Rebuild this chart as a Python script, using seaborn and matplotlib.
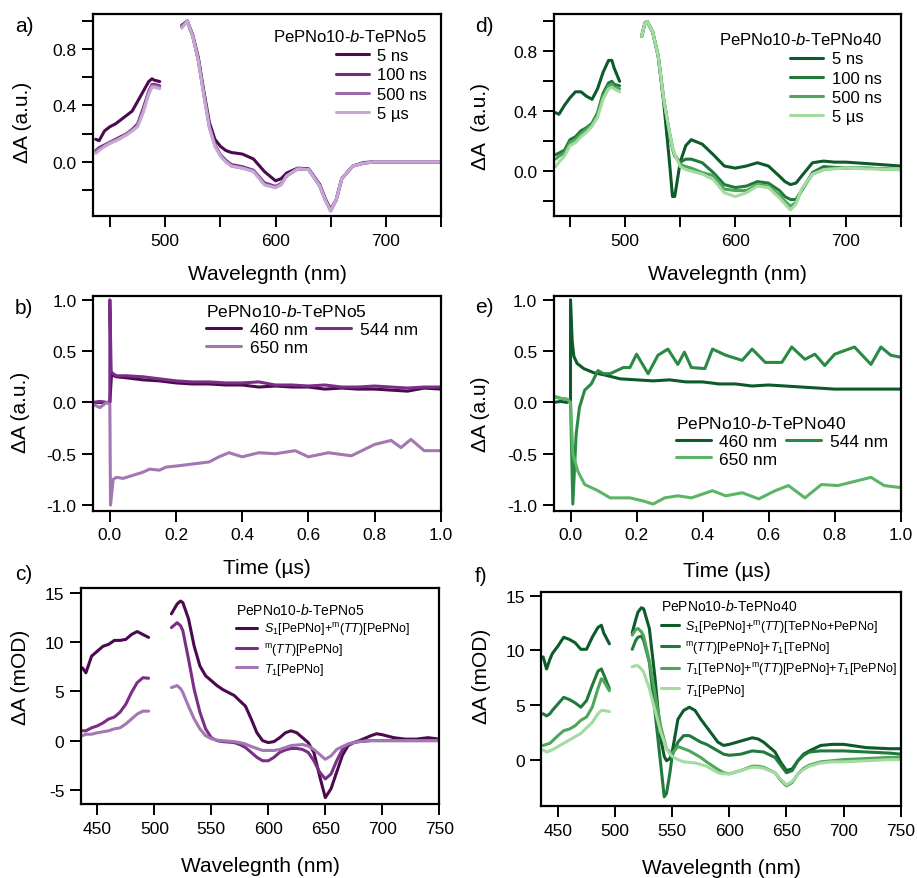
import numpy as np
import pandas as pd
import matplotlib
matplotlib.use("Agg")
import matplotlib.pyplot as plt
from matplotlib.lines import Line2D
from matplotlib import font_manager
import seaborn as sns

# ---------------- data ----------------
# panel a (PePNo10-b-TePNo5, normalised spectra)
a_wl_left = [437, 440, 445, 450, 455, 460, 465, 470, 475, 480, 485, 488, 490, 495]
a_5ns_left = [0.16, 0.15, 0.22, 0.25, 0.27, 0.30, 0.33, 0.36, 0.43, 0.50, 0.57, 0.59, 0.58, 0.57]
a_100ns_left = [0.08, 0.10, 0.12, 0.14, 0.16, 0.18, 0.20, 0.23, 0.27, 0.38, 0.50, 0.55, 0.55, 0.54]
a_500ns_left = [0.07, 0.09, 0.11, 0.14, 0.15, 0.17, 0.20, 0.22, 0.26, 0.36, 0.49, 0.54, 0.54, 0.53]
a_5us_left = [0.06, 0.08, 0.11, 0.13, 0.15, 0.17, 0.19, 0.22, 0.25, 0.35, 0.48, 0.53, 0.53, 0.52]
a_wl_right = [515, 520, 525, 530, 535, 540, 545, 550, 555, 560, 570, 580, 590, 600, 605, 610, 620,
              630, 640, 645, 650, 655, 660, 670, 680, 690, 700, 710, 720, 730, 740, 750]
a_5ns_right = [0.97, 1.0, 0.90, 0.74, 0.50, 0.28, 0.16, 0.11, 0.08, 0.066, 0.055, 0.02, -0.07, -0.135,
               -0.12, -0.08, -0.045, -0.05, -0.16, -0.26, -0.34, -0.27, -0.12, -0.03, -0.005, 0.0,
               0.0, 0.0, 0.0, 0.0, 0.0, 0.0]
a_100ns_right = [0.96, 1.0, 0.89, 0.72, 0.48, 0.25, 0.12, 0.05, 0.01, -0.02, -0.035, -0.06, -0.15,
                 -0.175, -0.155, -0.10, -0.05, -0.055, -0.17, -0.27, -0.34, -0.27, -0.12, -0.03,
                 -0.01, 0.0, 0.0, 0.0, 0.0, 0.0, 0.0, 0.0]
a_500ns_right = [0.96, 1.0, 0.89, 0.72, 0.48, 0.25, 0.12, 0.045, 0.0, -0.03, -0.045, -0.065, -0.16,
                 -0.18, -0.16, -0.10, -0.05, -0.055, -0.17, -0.27, -0.35, -0.27, -0.12, -0.03,
                 -0.01, 0.0, 0.0, 0.0, 0.0, 0.0, 0.0, 0.0]
a_5us_right = [0.95, 1.0, 0.89, 0.72, 0.47, 0.24, 0.11, 0.04, 0.0, -0.03, -0.045, -0.07, -0.165,
               -0.185, -0.165, -0.10, -0.05, -0.055, -0.17, -0.27, -0.35, -0.27, -0.12, -0.03,
               -0.01, 0.0, 0.0, 0.0, 0.0, 0.0, 0.0, 0.0]

# panel d (PePNo10-b-TePNo40, normalised spectra)
d_wl_left = [437, 440, 445, 450, 455, 460, 465, 470, 475, 480, 485, 488, 490, 495]
d_5ns_left = [0.39, 0.38, 0.44, 0.49, 0.53, 0.53, 0.50, 0.48, 0.55, 0.66, 0.74, 0.74, 0.69, 0.60]
d_100ns_left = [0.11, 0.12, 0.14, 0.21, 0.23, 0.27, 0.29, 0.32, 0.39, 0.52, 0.59, 0.60, 0.58, 0.57]
d_500ns_left = [0.08, 0.10, 0.12, 0.19, 0.21, 0.25, 0.28, 0.31, 0.38, 0.50, 0.57, 0.58, 0.56, 0.55]
d_5us_left = [0.03, 0.06, 0.10, 0.17, 0.19, 0.23, 0.26, 0.30, 0.36, 0.48, 0.55, 0.56, 0.55, 0.53]
d_wl_right = [515, 518, 520, 525, 530, 535, 540, 543, 545, 550, 555, 560, 570, 580, 590, 600, 610,
              620, 630, 640, 645, 650, 655, 660, 670, 680, 690, 700, 720, 750]
d_5ns_right = [0.90, 0.99, 1.0, 0.93, 0.77, 0.46, 0.08, -0.17, -0.17, 0.06, 0.17, 0.21, 0.18, 0.11,
               0.034, 0.02, 0.034, 0.056, 0.034, -0.034, -0.07, -0.09, -0.08, -0.034, 0.056, 0.067,
               0.06, 0.06, 0.05, 0.034]
d_100ns_right = [0.90, 0.99, 1.0, 0.93, 0.77, 0.48, 0.26, 0.15, 0.10, 0.06, 0.08, 0.08, 0.056, -0.01,
                 -0.09, -0.11, -0.10, -0.07, -0.08, -0.13, -0.17, -0.19, -0.19, -0.13, -0.01, 0.03,
                 0.025, 0.02, 0.02, 0.01]
d_500ns_right = [0.90, 0.99, 1.0, 0.93, 0.77, 0.48, 0.27, 0.16, 0.11, 0.045, 0.03, 0.02, -0.01,
                 -0.03, -0.12, -0.13, -0.13, -0.09, -0.10, -0.16, -0.20, -0.235, -0.21, -0.13, -0.02,
                 0.01, 0.02, 0.02, 0.02, 0.01]
d_5us_right = [0.90, 0.99, 1.0, 0.93, 0.77, 0.48, 0.27, 0.16, 0.11, 0.03, 0.01, 0.0, -0.02, -0.056,
               -0.145, -0.17, -0.145, -0.10, -0.11, -0.18, -0.22, -0.26, -0.22, -0.12, -0.02, 0.01,
               0.015, 0.02, 0.015, 0.01]

# panel b kinetics (PePNo10-b-TePNo5)
b_t_460 = [-0.05, -0.03, -0.01, 0.0, 0.005, 0.02, 0.05, 0.1, 0.15, 0.2, 0.25, 0.3, 0.35, 0.4, 0.45,
           0.5, 0.55, 0.6, 0.65, 0.7, 0.75, 0.8, 0.85, 0.9, 0.95, 1.0]
b_460 = [0.0, 0.0, 0.0, 0.0, 0.27, 0.25, 0.24, 0.22, 0.21, 0.19, 0.18, 0.18, 0.17, 0.17, 0.15, 0.16,
         0.15, 0.15, 0.13, 0.14, 0.13, 0.13, 0.12, 0.11, 0.14, 0.13]
b_t_544 = [-0.05, -0.03, -0.01, 0.0, 0.0, 0.004, 0.01, 0.02, 0.05, 0.1, 0.15, 0.2, 0.25, 0.3, 0.35,
           0.4, 0.45, 0.5, 0.55, 0.6, 0.65, 0.7, 0.75, 0.8, 0.85, 0.9, 0.95, 1.0]
b_544 = [0.0, 0.01, 0.0, 0.0, 1.0, 0.3, 0.28, 0.26, 0.26, 0.25, 0.23, 0.21, 0.20, 0.20, 0.19, 0.19,
         0.20, 0.17, 0.17, 0.16, 0.17, 0.15, 0.15, 0.16, 0.15, 0.14, 0.15, 0.15]
b_t_650 = [-0.05, -0.03, -0.01, 0.0, 0.002, 0.01, 0.02, 0.04, 0.07, 0.1, 0.12, 0.15, 0.17, 0.2, 0.25,
           0.3, 0.33, 0.36, 0.4, 0.45, 0.5, 0.56, 0.6, 0.66, 0.73, 0.8, 0.85, 0.88, 0.91, 0.95, 1.0]
b_650 = [-0.02, -0.05, 0.0, -0.02, -1.0, -0.75, -0.73, -0.74, -0.71, -0.68, -0.65, -0.66, -0.63,
         -0.62, -0.60, -0.58, -0.53, -0.49, -0.53, -0.49, -0.50, -0.47, -0.53, -0.49, -0.52, -0.41,
         -0.37, -0.44, -0.36, -0.47, -0.47]

# panel e kinetics (PePNo10-b-TePNo40)
e_t_460 = [-0.05, -0.03, -0.01, 0.0, 0.0, 0.005, 0.01, 0.02, 0.04, 0.07, 0.1, 0.15, 0.2, 0.25, 0.3,
           0.35, 0.4, 0.45, 0.5, 0.55, 0.6, 0.7, 0.8, 0.9, 1.0]
e_460 = [0.0, 0.01, 0.0, 0.02, 1.0, 0.6, 0.45, 0.38, 0.33, 0.29, 0.27, 0.23, 0.22, 0.21, 0.22, 0.20,
         0.20, 0.18, 0.18, 0.16, 0.17, 0.15, 0.13, 0.13, 0.13]
e_t_544 = [-0.05, -0.03, -0.01, 0.0, 0.007, 0.017, 0.027, 0.043, 0.063, 0.083, 0.1, 0.12, 0.14, 0.16,
           0.18, 0.2, 0.235, 0.265, 0.295, 0.325, 0.345, 0.366, 0.407, 0.43, 0.47, 0.52, 0.55, 0.59,
           0.64, 0.67, 0.71, 0.74, 0.77, 0.8, 0.86, 0.91, 0.94, 0.97, 1.0]
e_544 = [0.06, 0.04, 0.03, 0.0, -0.99, -0.31, -0.05, 0.12, 0.18, 0.31, 0.28, 0.28, 0.31, 0.34, 0.34,
         0.47, 0.28, 0.46, 0.52, 0.37, 0.49, 0.34, 0.33, 0.52, 0.46, 0.41, 0.52, 0.39, 0.39, 0.54,
         0.42, 0.47, 0.36, 0.47, 0.54, 0.37, 0.54, 0.46, 0.44]
e_t_650 = [-0.05, -0.03, -0.01, 0.0, 0.007, 0.022, 0.043, 0.083, 0.12, 0.18, 0.22, 0.25, 0.285, 0.325,
           0.366, 0.43, 0.47, 0.52, 0.57, 0.62, 0.66, 0.71, 0.76, 0.81, 0.91, 0.95, 1.0]
e_650 = [0.05, 0.04, 0.03, 0.0, -0.5, -0.67, -0.80, -0.86, -0.93, -0.93, -0.96, -0.99, -0.93, -0.91,
         -0.93, -0.86, -0.91, -0.88, -0.94, -0.86, -0.81, -0.93, -0.80, -0.81, -0.73, -0.81, -0.83]

# panel c species spectra (mOD)
c_wl_left = [437, 440, 445, 450, 455, 460, 465, 470, 475, 480, 485, 490, 495]
c_s1_left = [7.4, 6.9, 8.6, 9.1, 9.6, 9.8, 10.2, 10.2, 10.3, 10.8, 11.1, 10.8, 10.5]
c_tt_left = [1.0, 1.0, 1.3, 1.5, 1.8, 2.2, 2.4, 2.9, 3.7, 4.9, 5.9, 6.4, 6.35]
c_t1_left = [0.5, 0.65, 0.65, 0.8, 0.9, 1.0, 1.2, 1.3, 1.7, 2.2, 2.7, 3.0, 3.0]
c_wl_right = [515, 520, 523, 525, 530, 535, 540, 545, 550, 555, 560, 565, 570, 575, 580, 585, 590,
              595, 600, 605, 610, 615, 620, 625, 630, 635, 640, 645, 650, 655, 660, 665, 670, 675,
              680, 690, 695, 700, 710, 720, 730, 740, 750]
c_s1_right = [12.9, 13.9, 14.2, 14.05, 12.4, 9.6, 7.6, 6.6, 6.1, 5.6, 5.2, 4.9, 4.6, 4.05, 3.5, 2.2,
              0.8, 0.0, -0.2, -0.1, 0.3, 0.8, 1.0, 0.8, 0.3, -0.2, -1.2, -3.6, -5.8, -4.9, -3.2,
              -1.5, -0.5, -0.2, 0.0, 0.5, 0.7, 0.6, 0.3, 0.15, 0.15, 0.3, 0.15]
c_tt_right = [11.5, 12.0, 11.7, 11.2, 8.3, 5.2, 2.9, 1.2, 0.3, 0.0, -0.1, -0.15, -0.2, -0.4, -0.7,
              -1.2, -1.7, -2.05, -2.05, -1.7, -1.2, -0.95, -0.8, -0.8, -0.9, -1.2, -2.05, -3.2,
              -3.9, -3.4, -2.05, -0.9, -0.35, -0.2, -0.1, 0.0, 0.0, 0.0, 0.0, 0.0, 0.0, 0.0, 0.0]
c_t1_right = [5.4, 5.6, 5.3, 4.9, 3.5, 2.2, 1.2, 0.5, 0.2, 0.05, 0.0, -0.05, -0.1, -0.2, -0.35, -0.6,
              -0.8, -1.0, -1.0, -1.0, -0.9, -0.7, -0.5, -0.45, -0.4, -0.55, -0.9, -1.4, -1.9, -1.55,
              -0.9, -0.6, -0.35, -0.2, -0.1, 0.0, 0.0, 0.0, 0.0, 0.0, 0.0, 0.0, 0.0]

# panel f species spectra (mOD)
f_wl_left = [437, 440, 443, 445, 450, 455, 460, 465, 470, 475, 480, 485, 488, 490, 495]
f_s1_left = [9.4, 8.3, 9.2, 9.7, 10.4, 11.2, 11.0, 10.7, 10.1, 10.1, 11.2, 12.1, 12.3, 11.6, 10.6]
f_tt_left = [4.2, 4.0, 4.2, 4.5, 5.1, 5.7, 5.5, 5.2, 4.8, 5.4, 6.8, 8.1, 8.3, 7.8, 6.5]
f_mix_left = [1.3, 1.4, 1.5, 1.7, 2.2, 2.65, 2.8, 3.1, 3.6, 3.9, 4.8, 6.5, 7.4, 7.2, 6.3]
f_t1_left = [0.9, 0.7, 0.8, 0.9, 1.2, 1.5, 1.8, 2.1, 2.4, 2.9, 3.4, 4.2, 4.5, 4.5, 4.4]
f_wl_right = [515, 518, 520, 523, 525, 530, 535, 540, 543, 545, 548, 550, 555, 560, 565, 570, 575,
              580, 590, 595, 600, 610, 620, 625, 630, 640, 645, 650, 655, 660, 665, 670, 680, 690,
              700, 720, 740, 750]
f_s1_right = [11.6, 12.8, 13.5, 13.9, 13.8, 12.0, 7.4, 1.9, 0.3, -0.1, 0.1, 0.7, 3.7, 4.5, 4.8, 4.5,
              3.7, 3.0, 1.6, 1.3, 1.4, 1.7, 2.0, 1.9, 1.6, 0.7, -0.25, -1.0, -0.85, -0.1, 0.5, 0.8,
              1.3, 1.4, 1.4, 1.1, 1.0, 1.0]
f_tt_right = [10.1, 10.9, 11.2, 11.3, 10.9, 8.9, 4.3, -0.5, -3.4, -3.1, -1.2, 0.4, 1.6, 2.2, 2.2,
              1.9, 1.6, 1.4, 0.8, 0.5, 0.4, 0.5, 0.8, 0.75, 0.7, 0.2, -0.5, -1.2, -1.0, -0.1, 0.4,
              0.7, 0.8, 0.8, 0.8, 0.7, 0.6, 0.5]
f_mix_right = [11.4, 11.9, 12.0, 11.7, 11.3, 9.0, 6.0, 3.0, 1.8, 1.0, 0.7, 0.6, 1.2, 1.0, 0.8, 0.5,
               0.2, -0.2, -0.9, -1.2, -1.3, -1.0, -0.6, -0.6, -0.7, -1.2, -1.9, -2.4, -2.1, -1.3,
               -0.8, -0.5, -0.2, -0.1, 0.0, 0.1, 0.2, 0.2]
f_t1_right = [8.5, 8.6, 8.6, 8.3, 8.0, 6.5, 4.5, 2.5, 1.6, 1.0, 0.5, 0.3, 0.0, -0.2, -0.25, -0.3,
              -0.45, -0.6, -1.2, -1.3, -1.3, -1.0, -0.7, -0.7, -0.8, -1.2, -1.8, -2.3, -2.0, -1.3,
              -0.9, -0.6, -0.3, -0.2, -0.2, -0.1, 0.0, 0.0]

time_labels = ["5 ns", "100 ns", "500 ns", "5 µs"]
kin_labels = ["460 nm", "544 nm", "650 nm"]
c_labels = [r"$S_1$[PePNo]+$^{\mathrm{m}}$($TT$)[PePNo]",
            r"$^{\mathrm{m}}$($TT$)[PePNo]",
            r"$T_1$[PePNo]"]
f_labels = [r"$S_1$[PePNo]+$^{\mathrm{m}}$($TT$)[TePNo+PePNo]",
            r"$^{\mathrm{m}}$($TT$)[PePNo]+$T_1$[TePNo]",
            r"$T_1$[TePNo]+$^{\mathrm{m}}$($TT$)[PePNo]+$T_1$[PePNo]",
            r"$T_1$[PePNo]"]

purples = ["#4b0a4f", "#742a80", "#9c6aae", "#c6a8d4"]
greens = ["#0d5a2a", "#207a3c", "#4ea65a", "#a4dba0"]
purples_kin = ["#4b0a4f", "#7a2e86", "#a277b2"]
greens_kin = ["#0d5a2a", "#2a8a45", "#5cb567"]
purples_c = ["#4b0a4f", "#7a2e86", "#a277b2"]

# ---------------- style ----------------
sns.set_theme(style="ticks")
plt.rcParams["font.family"] = ["Liberation Sans", "DejaVu Sans"]
plt.rcParams["mathtext.fontset"] = "custom"
plt.rcParams["mathtext.rm"] = "Liberation Sans"
plt.rcParams["mathtext.it"] = "Liberation Sans:italic"
plt.rcParams["mathtext.bf"] = "Liberation Sans:bold"
plt.rcParams["axes.unicode_minus"] = False
for k in ["text.color", "axes.labelcolor", "xtick.color", "ytick.color", "axes.edgecolor",
          "legend.labelcolor"]:
    plt.rcParams[k] = "black"

names = {f.name for f in font_manager.fontManager.ttflist}
NARROW = "Liberation Sans Narrow" in names
small_family = ["Liberation Sans Narrow", "Liberation Sans"] if NARROW else ["Liberation Sans"]
small_size = 10.5 if NARROW else 9.0
small_title = 10.5 if NARROW else 10.0

LW = 2.2
TICK_FS = 12.5
LABEL_FS = 15

fig = plt.figure(figsize=(9.17, 8.79), dpi=100)
W, H = 917, 879


def add_ax(l, t, r, b):
    return fig.add_axes([l / W, 1 - b / H, (r - l) / W, (b - t) / H])


ax_a = add_ax(93, 15, 441, 217)
ax_d = add_ax(554, 15, 900.7, 217)
ax_b = add_ax(93.3, 296.7, 440.7, 511.7)
ax_e = add_ax(554, 296.7, 900.7, 511.7)
ax_c = add_ax(81, 589.3, 439.3, 805)
ax_f = add_ax(541.3, 592.7, 900.7, 807.3)


def spectra_frame(wl_left, wl_right, lefts, rights, names_):
    rows = []
    for nm, yl, yr in zip(names_, lefts, rights):
        for x, y in zip(wl_left, yl):
            rows.append((x, y, nm, "L"))
        for x, y in zip(wl_right, yr):
            rows.append((x, y, nm, "R"))
    return pd.DataFrame(rows, columns=["x", "y", "series", "seg"])


def kin_frame(ts, ys, names_):
    rows = []
    for nm, t, y in zip(names_, ts, ys):
        for xx, yy in zip(t, y):
            rows.append((xx, yy, nm, "A"))
    return pd.DataFrame(rows, columns=["x", "y", "series", "seg"])


def draw(ax, df, names_, colors):
    sns.lineplot(data=df, x="x", y="y", hue="series", hue_order=names_, units="seg",
                 estimator=None, sort=False, palette=colors, legend=False, lw=LW, ax=ax)


def style_axes(ax):
    for s in ax.spines.values():
        s.set_visible(True)
        s.set_linewidth(1.6)
        s.set_color("black")
    ax.tick_params(which="both", direction="out", length=8, width=1.4, colors="black",
                   labelsize=TICK_FS, top=False, right=False, pad=4)
    ax.set_xlabel("")
    ax.set_ylabel("")


def legend(ax, colors, labels, title, loc, anchor, fs, align="left", ncol=1, hl=2.0,
           spacing=0.25, colspace=0.5, family=None, title_fs=None):
    handles = [Line2D([], [], color=c, lw=LW) for c in colors]
    prop = {"size": fs}
    if family:
        prop["family"] = family
    tprop = dict(prop)
    if title_fs:
        tprop["size"] = title_fs
    leg = ax.legend(handles, labels, title=title, loc=loc, bbox_to_anchor=anchor, frameon=False,
                    prop=prop, title_fontproperties=tprop, handlelength=hl,
                    handletextpad=0.5, labelspacing=spacing, borderpad=0, borderaxespad=0,
                    ncol=ncol, columnspacing=colspace)
    leg._legend_box.align = align
    leg.get_title().set_color("black")
    for t in leg.get_texts():
        t.set_color("black")
    return leg


# ---- panel a ----
dfa = spectra_frame(a_wl_left, a_wl_right, [a_5ns_left, a_100ns_left, a_500ns_left, a_5us_left],
                    [a_5ns_right, a_100ns_right, a_500ns_right, a_5us_right], time_labels)
draw(ax_a, dfa, time_labels, purples)
style_axes(ax_a)
ax_a.set_xlim(434.5, 750)
ax_a.set_ylim(-0.385, 1.05)
ax_a.set_xticks([500, 600, 700])
ax_a.set_xticks([450, 550, 650, 750], minor=True)
ax_a.set_yticks([0.0, 0.4, 0.8])
ax_a.set_yticklabels(["0.0", "0.4", "0.8"])
ax_a.set_yticks([-0.2, 0.2, 0.6, 1.0], minor=True)
legend(ax_a, purples, time_labels, "PePNo10-$b$-TePNo5", "upper right", (0.96, 0.93), 12,
       align="right")

# ---- panel d ----
dfd = spectra_frame(d_wl_left, d_wl_right, [d_5ns_left, d_100ns_left, d_500ns_left, d_5us_left],
                    [d_5ns_right, d_100ns_right, d_500ns_right, d_5us_right], time_labels)
draw(ax_d, dfd, time_labels, greens)
style_axes(ax_d)
ax_d.set_xlim(435.5, 750)
ax_d.set_ylim(-0.30, 1.05)
ax_d.set_xticks([500, 600, 700])
ax_d.set_xticks([450, 550, 650, 750], minor=True)
ax_d.set_yticks([0.0, 0.4, 0.8])
ax_d.set_yticklabels(["0.0", "0.4", "0.8"])
ax_d.set_yticks([-0.2, 0.2, 0.6, 1.0], minor=True)
legend(ax_d, greens, time_labels, "PePNo10-$b$-TePNo40", "upper right", (0.945, 0.915), 12,
       align="right")

# legend order for the two-column kinetics legends: row 1 = 460, 544; row 2 = 650
kin_order = [0, 2, 1]

# ---- panel b ----
dfb = kin_frame([b_t_460, b_t_544, b_t_650], [b_460, b_544, b_650], kin_labels)
draw(ax_b, dfb, kin_labels, purples_kin)
style_axes(ax_b)
ax_b.set_xlim(-0.05, 1.0)
ax_b.set_ylim(-1.055, 1.04)
ax_b.set_xticks(np.arange(0, 1.01, 0.2))
ax_b.set_xticklabels(["0.0", "0.2", "0.4", "0.6", "0.8", "1.0"])
ax_b.set_yticks([-1.0, -0.5, 0.0, 0.5, 1.0])
ax_b.set_yticklabels(["-1.0", "-0.5", "0.0", "0.5", "1.0"])
legend(ax_b, [purples_kin[i] for i in kin_order], [kin_labels[i] for i in kin_order],
       "PePNo10-$b$-TePNo5", "upper left", (0.325, 0.965), 12.5, ncol=2, spacing=0.15)

# ---- panel e ----
dfe = kin_frame([e_t_460, e_t_544, e_t_650], [e_460, e_544, e_650], kin_labels)
draw(ax_e, dfe, kin_labels, greens_kin)
style_axes(ax_e)
ax_e.set_xlim(-0.05, 1.0)
ax_e.set_ylim(-1.055, 1.04)
ax_e.set_xticks(np.arange(0, 1.01, 0.2))
ax_e.set_xticklabels(["0.0", "0.2", "0.4", "0.6", "0.8", "1.0"])
ax_e.set_yticks([-1.0, -0.5, 0.0, 0.5, 1.0])
ax_e.set_yticklabels(["-1.0", "-0.5", "0.0", "0.5", "1.0"])
legend(ax_e, [greens_kin[i] for i in kin_order], [kin_labels[i] for i in kin_order],
       "PePNo10-$b$-TePNo40", "upper left", (0.352, 0.445), 12.5, ncol=2, spacing=0.15)

# ---- panel c ----
c_names = ["S1", "TT", "T1"]
dfc = spectra_frame(c_wl_left, c_wl_right, [c_s1_left, c_tt_left, c_t1_left],
                    [c_s1_right, c_tt_right, c_t1_right], c_names)
draw(ax_c, dfc, c_names, purples_c)
style_axes(ax_c)
ax_c.set_xlim(435.7, 750)
ax_c.set_ylim(-6.45, 15.5)
ax_c.set_xticks(np.arange(450, 751, 50))
ax_c.set_yticks([-5, 0, 5, 10, 15])
legend(ax_c, purples_c, c_labels, "PePNo10-$b$-TePNo5", "upper left", (0.433, 0.935), small_size,
       hl=1.7, spacing=0.25, family=small_family, title_fs=small_title)

# ---- panel f ----
f_names = ["S1", "TT", "MIX", "T1"]
dff = spectra_frame(f_wl_left, f_wl_right, [f_s1_left, f_tt_left, f_mix_left, f_t1_left],
                    [f_s1_right, f_tt_right, f_mix_right, f_t1_right], f_names)
draw(ax_f, dff, f_names, greens)
style_axes(ax_f)
ax_f.set_xlim(435.4, 750)
ax_f.set_ylim(-4.27, 15.37)
ax_f.set_xticks(np.arange(450, 751, 50))
ax_f.set_yticks([0, 5, 10, 15])
legend(ax_f, greens, f_labels, "PePNo10-$b$-TePNo40", "upper left", (0.333, 0.97), small_size,
       hl=1.45, spacing=0.35, family=small_family, title_fs=small_title)

# ---- axis labels ----
for ax, xl, xy, yl, yx, yy in [
    (ax_a, "Wavelegnth (nm)", -0.238, "ΔA (a.u.)", -0.175, 0.47),
    (ax_d, "Wavelegnth (nm)", -0.238, "ΔA  (a.u.)", -0.185, 0.45),
    (ax_b, "Time (µs)", -0.22, "ΔA (a.u.)", -0.182, 0.46),
    (ax_e, "Time (µs)", -0.234, "ΔA (a.u)", -0.185, 0.455),
    (ax_c, "Wavelegnth (nm)", -0.241, "ΔA (mOD)", -0.142, 0.593),
    (ax_f, "Wavelegnth (nm)", -0.241, "ΔA (mOD)", -0.14, 0.61),
]:
    ax.set_xlabel(xl, fontsize=LABEL_FS, color="black")
    ax.xaxis.set_label_coords(0.5, xy)
    ax.set_ylabel(yl, fontsize=LABEL_FS, color="black")
    ax.yaxis.set_label_coords(yx, yy)

# ---- panel letters ----
for txt, px, py in [("a)", 15, 27), ("b)", 15, 309), ("c)", 15, 575),
                    ("d)", 475, 27), ("e)", 475, 308), ("f)", 475, 577)]:
    fig.text(px / W, 1 - py / H, txt, fontsize=LABEL_FS, ha="left", va="center", color="black")

fig.savefig("out.png", dpi=100, facecolor="white")
